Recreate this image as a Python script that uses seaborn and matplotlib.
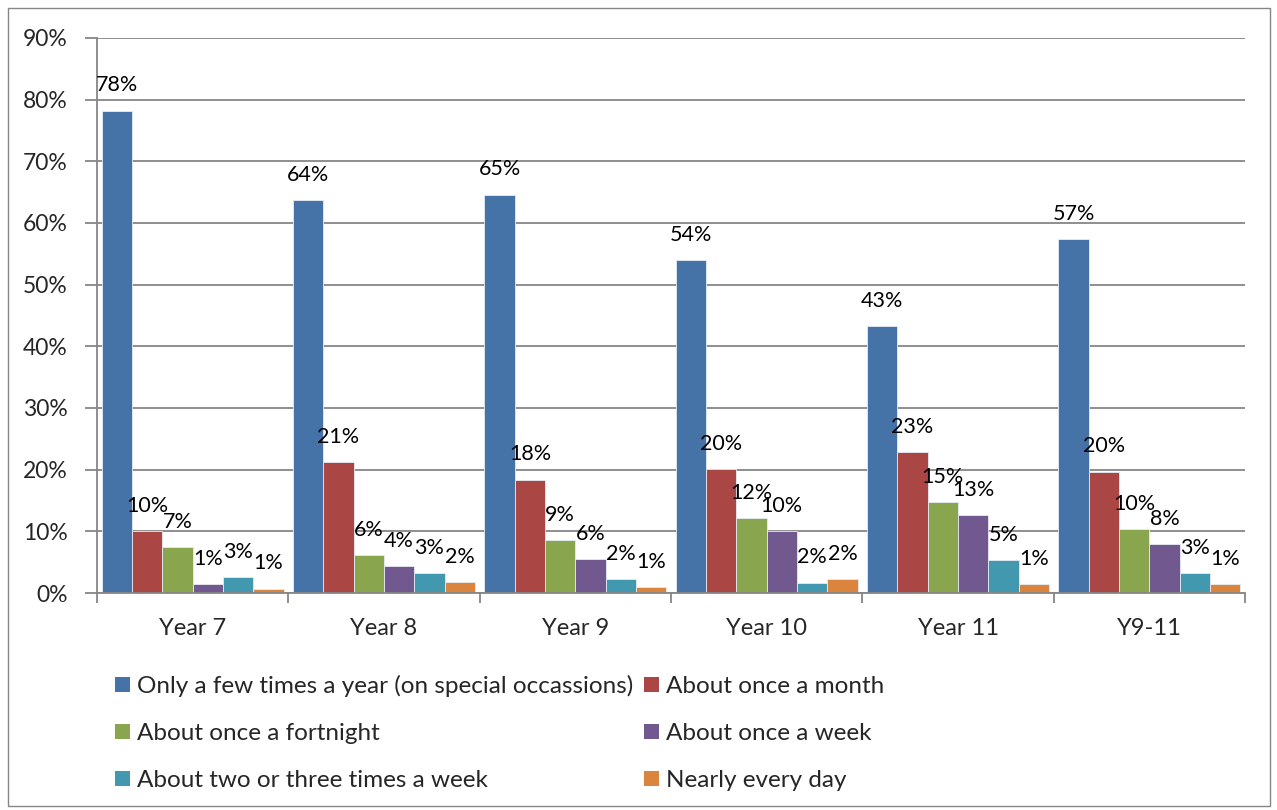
import matplotlib
matplotlib.use("Agg")
import matplotlib.pyplot as plt
from matplotlib.patches import Patch, Rectangle
from matplotlib.ticker import FixedLocator
import seaborn as sns
import pandas as pd

# Survey responses by year group (percent of pupils)
groups = ["Year 7", "Year 8", "Year 9", "Year 10", "Year 11", "Y9-11"]
series = [
    "Only a few times a year (on special occassions)",
    "About once a month",
    "About once a fortnight",
    "About once a week",
    "About two or three times a week",
    "Nearly every day",
]
few_times_year = [78.2, 63.7, 64.6, 54.0, 43.3, 57.4]
once_month = [10.0, 21.2, 18.4, 20.1, 22.8, 19.7]
once_fortnight = [7.4, 6.1, 8.6, 12.1, 14.7, 10.4]
once_week = [1.4, 4.3, 5.5, 10.0, 12.6, 7.9]
two_three_week = [2.6, 3.2, 2.2, 1.7, 5.3, 3.2]
nearly_every_day = [0.7, 1.8, 1.0, 2.3, 1.4, 1.4]
values = [few_times_year, once_month, once_fortnight, once_week,
          two_three_week, nearly_every_day]

colors = ["#4572A7", "#AA4643", "#89A54E", "#71588F", "#4198AF", "#DB843D"]

df = pd.DataFrame(
    [(g, s, v) for s, vals in zip(series, values) for g, v in zip(groups, vals)],
    columns=["group", "series", "value"],
)

sns.set_theme(style="white")
plt.rcParams["font.family"] = ["Lato", "DejaVu Sans"]

fig = plt.figure(figsize=(12.77, 8.10), dpi=100)
ax = fig.add_axes([97 / 1277, 1 - 593 / 810, (1245 - 97) / 1277, (593 - 38) / 810])

sns.barplot(
    data=df, x="group", y="value", hue="series", order=groups,
    hue_order=series, palette=colors, width=0.95, saturation=1,
    edgecolor="#e6ecf4", linewidth=0.6, legend=False, ax=ax,
)

# Value labels above each bar
for cont, vals in zip(ax.containers, values):
    ax.bar_label(cont, labels=[f"{v:.0f}%" for v in vals], padding=11,
                 fontsize=15.5, color="black")

ax.set_ylim(0, 90)
ax.set_xlim(-0.5, len(groups) - 0.5)
ax.set_yticks(range(0, 91, 10))
ax.set_yticklabels([f"{t}%" for t in range(0, 91, 10)], fontsize=16.5)
ax.tick_params(axis="y", length=9, width=1.3, color="#868686", pad=12, left=True)
ax.tick_params(axis="x", which="major", length=0, labelsize=17, pad=18)
ax.xaxis.set_minor_locator(FixedLocator([i - 0.5 for i in range(len(groups) + 1)]))
ax.tick_params(axis="x", which="minor", length=7, width=1.3, color="#868686", bottom=True)
ax.set_xlabel("")
ax.set_ylabel("")

ax.grid(axis="y", color="#868686", linewidth=1.3)
ax.set_axisbelow(True)
for side in ["top", "right"]:
    ax.spines[side].set_visible(False)
for side in ["left", "bottom"]:
    ax.spines[side].set_color("#868686")
    ax.spines[side].set_linewidth(1.3)

# Legend laid out row by row, two entries per row
handles = [Patch(facecolor=c, edgecolor="none") for c in colors]
order = [0, 2, 4, 1, 3, 5]
fig.legend(
    [handles[i] for i in order], [series[i] for i in order],
    ncol=2, loc="upper left", bbox_to_anchor=(115 / 1277, 1 - 675 / 810),
    frameon=False, fontsize=17.5, handlelength=0.62, handleheight=0.62,
    handletextpad=0.28, labelspacing=1.07, columnspacing=0.45,
    borderpad=0, borderaxespad=0,
)

# Outer chart border
fig.patches.append(Rectangle((8 / 1277, 4 / 810), 1262 / 1277, 798 / 810,
                             transform=fig.transFigure, fill=False,
                             edgecolor="#868686", linewidth=1.0))

fig.savefig("out.png", dpi=100, facecolor="white")
